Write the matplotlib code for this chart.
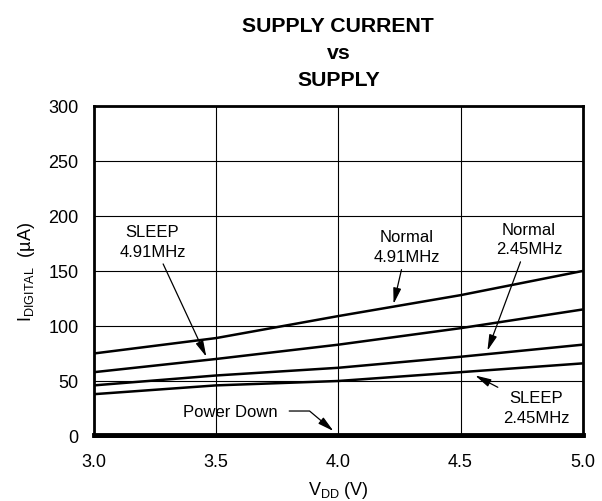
import numpy as np
import matplotlib.pyplot as plt

plt.rcParams['font.family'] = ['Liberation Sans', 'DejaVu Sans']

# supply voltage (V)
vdd = [3.0, 3.5, 4.0, 4.5, 5.0]
# digital supply current (uA)
normal_491 = [75, 89, 109, 128, 150]
sleep_491 = [58, 70, 83, 98, 115]
normal_245 = [46, 55, 62, 72, 83]
sleep_245 = [38, 46, 50, 58, 66]
power_down = [0.8, 0.8, 0.8, 0.8, 0.8]

x_ticks = [3.0, 3.5, 4.0, 4.5, 5.0]
y_ticks = [0, 50, 100, 150, 200, 250, 300]


def main():
    fig = plt.figure(figsize=(6.02, 5.02), dpi=100)
    ax = fig.add_axes([0.156, 0.1295, 0.812, 0.6575])

    for series in (normal_491, sleep_491, normal_245, sleep_245):
        ax.plot(vdd, series, color='black', lw=1.8, solid_capstyle='butt')
    ax.plot(vdd, power_down, color='black', lw=3.5, clip_on=False)

    ax.set_xlim(3.0, 5.0)
    ax.set_ylim(0, 300)
    ax.set_xticks(x_ticks)
    ax.set_xticklabels([f'{v:.1f}' for v in x_ticks])
    ax.set_yticks(y_ticks)
    ax.tick_params(length=0, labelsize=13)
    ax.tick_params(axis='x', pad=12)
    ax.tick_params(axis='y', pad=11)
    ax.grid(True, color='black', lw=0.8)
    for s in ax.spines.values():
        s.set_linewidth(2.0)

    ax.set_xlabel(r'V$_{\mathregular{DD}}$ (V)', fontsize=13, labelpad=7)
    ax.set_ylabel(r'I$_{\mathregular{DIGITAL}}$  (µA)', fontsize=13, labelpad=8)
    ax.set_title('SUPPLY CURRENT\nvs\nSUPPLY', fontsize=15.3, fontweight='bold',
                 linespacing=1.55, pad=15)

    arrow = dict(arrowstyle='-|>,head_length=0.8,head_width=0.2', color='black',
                 lw=0.9, shrinkA=2, shrinkB=0)
    kw = dict(ha='center', va='center', fontsize=12, linespacing=1.4)
    ax.annotate('SLEEP\n4.91MHz', xy=(3.46, 72), xytext=(3.24, 177),
                arrowprops=arrow, **kw)
    ax.annotate('Normal\n4.91MHz', xy=(4.226, 120), xytext=(4.28, 172),
                arrowprops=arrow, **kw)
    ax.annotate('Normal\n2.45MHz', xy=(4.61, 77.5), xytext=(4.78, 179),
                arrowprops=arrow, **kw)
    ax.annotate('SLEEP\n2.45MHz', xy=(4.56, 55), xytext=(4.81, 26),
                arrowprops=arrow, **kw)
    ax.annotate('Power Down', xy=(3.98, 4.5), xytext=(3.56, 22.7),
                arrowprops=dict(arrow, shrinkA=6,
                                connectionstyle='angle,angleA=0,angleB=140,rad=0'),
                **kw)

    fig.savefig('out.png', dpi=100)


if __name__ == '__main__':
    main()
